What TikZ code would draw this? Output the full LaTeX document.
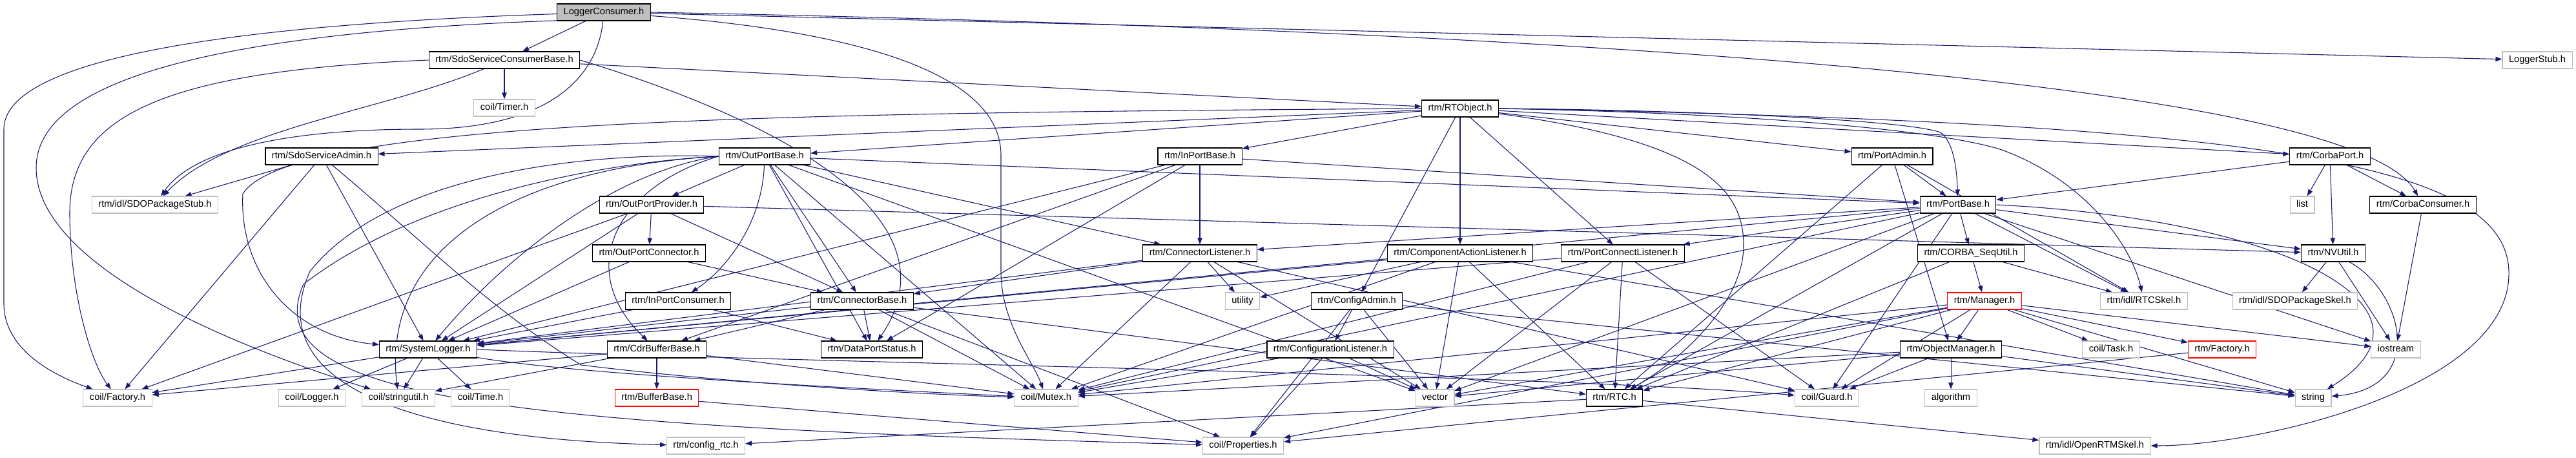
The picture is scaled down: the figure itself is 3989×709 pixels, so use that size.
\documentclass[tikz,border=0pt]{standalone}
\usepackage{fontspec}
\setmainfont{Liberation Sans}
\usepackage{tikz}
\usetikzlibrary{arrows.meta,backgrounds}
\definecolor{arco}{RGB}{25,25,112}
\definecolor{grigio}{RGB}{191,191,191}

\begin{document}
\begin{tikzpicture}[x=0.75pt, y=-0.75pt,
    file/.style={draw=black, fill=white, line width=0.8pt, minimum height=19.5pt,
      inner xsep=7.5pt, inner ysep=0pt, text height=8pt, text depth=2.4pt,
      font=\fontsize{11}{13}\selectfont},
    ext/.style={file, draw=grigio},
    rosso/.style={file, draw=red},
    radice/.style={file, fill=grigio},
    dep/.style={draw=arco, line width=0.8pt, -{Triangle[length=7.5pt,width=5.5pt]}}]
            \useasboundingbox (0,0) rectangle (3989,709);

            % file principale
            \node[radice] (lc) at (935,19) {LoggerConsumer.h};

            % livello 1-2
            \node[file] (scb) at (781,93) {rtm/SdoServiceConsumerBase.h};
            \node[ext] (stub) at (3929,93) {LoggerStub.h};
            \node[ext] (timer) at (781,167) {coil/Timer.h};
            \node[file] (rto) at (2261,168) {rtm/RTObject.h};

            % livello 3
            \node[file] (sadm) at (498,242) {rtm/SdoServiceAdmin.h};
            \node[file] (opb) at (1184,242) {rtm/OutPortBase.h};
            \node[file] (ipb) at (1858,242) {rtm/InPortBase.h};
            \node[file] (padm) at (2930,242) {rtm/PortAdmin.h};
            \node[file] (cport) at (3608,242) {rtm/CorbaPort.h};

            % livello 4
            \node[ext] (sdostub) at (240,317) {rtm/idl/SDOPackageStub.h};
            \node[file] (opp) at (1009,317) {rtm/OutPortProvider.h};
            \node[file] (pbase) at (3032,317) {rtm/PortBase.h};
            \node[ext] (list) at (3565,317) {list};
            \node[file] (ccons) at (3752,317) {rtm/CorbaConsumer.h};

            % livello 5
            \node[file] (opc) at (1005,392) {rtm/OutPortConnector.h};
            \node[file] (clis) at (1858,392) {rtm/ConnectorListener.h};
            \node[file] (calis) at (2261,392) {rtm/ComponentActionListener.h};
            \node[file] (pclis) at (2513,392) {rtm/PortConnectListener.h};
            \node[file] (cseq) at (3052,392) {rtm/CORBA\_SeqUtil.h};
            \node[file] (nvutil) at (3613,392) {rtm/NVUtil.h};

            % livello 6
            \node[file] (ipc) at (1050,466) {rtm/InPortConsumer.h};
            \node[file] (cbase) at (1335,466) {rtm/ConnectorBase.h};
            \node[ext] (utility) at (1924,466) {utility};
            \node[file] (cadm) at (2101,466) {rtm/ConfigAdmin.h};
            \node[rosso] (mgr) at (3073,466) {rtm/Manager.h};
            \node[ext] (rtcskel) at (3320,466) {rtm/idl/RTCSkel.h};
            \node[ext] (sdoskel) at (3554,466) {rtm/idl/SDOPackageSkel.h};

            % livello 7
            \node[file] (slog) at (663,541) {rtm/SystemLogger.h};
            \node[file] (cdrbuf) at (1017,541) {rtm/CdrBufferBase.h};
            \node[file] (dps) at (1350,541) {rtm/DataPortStatus.h};
            \node[file] (conflis) at (2060,541) {rtm/ConfigurationListener.h};
            \node[file] (objmgr) at (3021,541) {rtm/ObjectManager.h};
            \node[ext] (task) at (3269,541) {coil/Task.h};
            \node[rosso] (fact) at (3441,541) {rtm/Factory.h};
            \node[ext] (iostream) at (3710,541) {iostream};

            % livello 8
            \node[ext] (cfact) at (182,616) {coil/Factory.h};
            \node[ext] (clog) at (483,616) {coil/Logger.h};
            \node[ext] (sutil) at (617,616) {coil/stringutil.h};
            \node[ext] (ctime) at (744,616) {coil/Time.h};
            \node[rosso] (bbase) at (1017,616) {rtm/BufferBase.h};
            \node[ext] (mutex) at (1620,616) {coil/Mutex.h};
            \node[ext] (vector) at (2222,616) {vector};
            \node[file] (rtc) at (2500,616) {rtm/RTC.h};
            \node[ext] (guard) at (2829,616) {coil/Guard.h};
            \node[ext] (algo) at (3021,616) {algorithm};
            \node[ext] (string) at (3582,616) {string};

            % livello 9
            \node[ext] (crtc) at (1093,690) {rtm/config\_rtc.h};
            \node[ext] (props) at (1925,690) {coil/Properties.h};
            \node[ext] (ortm) at (3244,690) {rtm/idl/OpenRTMSkel.h};

            \begin{pgfonlayer}{background}
            % LoggerConsumer.h
            \draw[dep] (lc) -- (scb);
            \draw[dep] (lc) -- (stub);
            \draw[dep] (lc.east) .. controls (2600,50) and (3650,140) .. (ccons);
            \draw[dep] (lc) .. controls (1350,50) and (1550,120) .. (1550,240) -- (1550,420) .. controls (1550,500) and (1600,560) .. (mutex);
            \draw[dep] (lc.182) .. controls (300,40) and (6,100) .. (6,200) -- (6,470) .. controls (6,540) and (80,580) .. (cfact);
            \draw[dep] (lc.190) .. controls (350,50) and (56,120) .. (56,260) .. controls (56,380) and (250,500) .. (sutil);
            \draw[dep] (lc) .. controls (925,120) and (850,200) .. (650,200) .. controls (450,200) and (300,230) .. (sdostub);

            % SdoServiceConsumerBase.h
            \draw[dep] (scb) -- (timer);
            \draw[dep] (scb) -- (rto);
            \draw[dep] (scb) .. controls (600,170) and (350,200) .. (sdostub);
            \draw[dep] (scb.west) .. controls (250,110) and (108,180) .. (108,330) .. controls (108,450) and (140,560) .. (cfact);
            \draw[dep] (scb.east) .. controls (1250,200) and (1480,350) .. (dps);

            % RTObject.h
            \draw[dep] (rto) -- (sadm);
            \draw[dep] (rto) -- (opb);
            \draw[dep] (rto) -- (ipb);
            \draw[dep] (rto) -- (padm);
            \draw[dep] (rto) -- (cport);
            \draw[dep] (rto.east) .. controls (2600,170) and (2950,185) .. (3005,205) .. controls (3025,220) and (3030,260) .. (pbase);
            \draw[dep] (rto.east) .. controls (2700,175) and (3000,200) .. (3100,232) .. controls (3230,280) and (3300,380) .. (rtcskel);
            \draw[dep] (rto.east) .. controls (3500,190) and (3880,250) .. (3885,420) .. controls (3890,600) and (3500,690) .. (ortm);
            \draw[dep] (rto) -- (calis);
            \draw[dep] (rto) -- (pclis);
            \draw[dep] (rto) -- (cadm);
            \draw[dep] (rto) .. controls (2650,220) and (2700,300) .. (2700,380) .. controls (2700,470) and (2600,560) .. (rtc);
            \draw[dep] (rto.west) .. controls (1200,175) and (450,185) .. (376,300) .. controls (370,420) and (450,520) .. (slog);

            % SdoServiceAdmin.h
            \draw[dep] (sadm) -- (sdostub);
            \draw[dep] (sadm) -- (cfact);
            \draw[dep] (sadm) -- (slog);
            \draw[dep] (sadm) .. controls (640,360) and (760,480) .. (900,565) .. controls (1100,590) and (1400,610) .. (mutex);

            % OutPortBase.h
            \draw[dep] (opb) -- (opp);
            \draw[dep] (opb) .. controls (1180,350) and (1120,420) .. (ipc);
            \draw[dep] (opb) -- (cbase);
            \draw[dep] (opb) -- (clis);
            \draw[dep] (opb) -- (pbase);
            \draw[dep] (opb.west) .. controls (950,265) and (780,400) .. (slog);
            \draw[dep] (opb.west) .. controls (950,290) and (890,420) .. (cdrbuf);
            \draw[dep] (opb) -- (dps);
            \draw[dep] (opb.west) .. controls (800,260) and (590,380) .. (sutil);
            \draw[dep] (opb) -- (vector);
            \draw[dep] (opb) -- (mutex);
            \draw[dep] (opb.west) .. controls (900,235) and (600,270) .. (480,420) .. controls (400,600) and (650,680) .. (crtc);
            \draw[dep] (opb.west) .. controls (950,250) and (650,300) .. (470,440) .. controls (390,620) and (800,660) .. (props);

            % OutPortProvider.h
            \draw[dep] (opp) -- (opc);
            \draw[dep] (opp) -- (cfact);
            \draw[dep] (opp) -- (slog);
            \draw[dep] (opp) -- (cbase);
            \draw[dep] (opp) -- (nvutil);

            % OutPortConnector.h, InPortConsumer.h
            \draw[dep] (opc) -- (cbase);
            \draw[dep] (opc) -- (slog);
            \draw[dep] (ipc) -- (slog);
            \draw[dep] (ipc) -- (dps);

            % SystemLogger.h
            \draw[dep] (slog) -- (cfact);
            \draw[dep] (slog) -- (clog);
            \draw[dep] (slog) -- (sutil);
            \draw[dep] (slog) -- (ctime);
            \draw[dep] (slog) .. controls (900,580) and (1300,600) .. (mutex);
            \draw[dep] (slog.east) .. controls (1200,560) and (2400,580) .. (guard);

            % ConnectorBase.h
            \draw[dep] (cbase) -- (slog);
            \draw[dep] (cbase) -- (dps);
            \draw[dep] (cbase) -- (cdrbuf);
            \draw[dep] (cbase) -- (mutex);
            \draw[dep] (cbase) -- (props);
            \draw[dep] (cbase) -- (rtc);

            % CdrBufferBase.h, BufferBase.h
            \draw[dep] (cdrbuf) -- (bbase);
            \draw[dep] (cdrbuf) -- (cfact);
            \draw[dep] (cdrbuf) -- (sutil);
            \draw[dep] (cdrbuf) -- (mutex);
            \draw[dep] (bbase) -- (props);

            % InPortBase.h
            \draw[dep] (ipb) -- (pbase);
            \draw[dep] (ipb) -- (clis);
            \draw[dep] (ipb) -- (cdrbuf);
            \draw[dep] (ipb) -- (dps);
            \draw[dep] (ipb) -- (slog);

            % ConnectorListener.h
            \draw[dep] (clis) -- (cbase);
            \draw[dep] (clis) -- (utility);
            \draw[dep] (clis) -- (slog);
            \draw[dep] (clis) -- (mutex);
            \draw[dep] (clis) -- (vector);
            \draw[dep] (clis) -- (guard);

            % ComponentActionListener.h
            \draw[dep] (calis) -- (slog);
            \draw[dep] (calis) -- (utility);
            \draw[dep] (calis) -- (mutex);
            \draw[dep] (calis) -- (vector);
            \draw[dep] (calis) -- (rtc);
            \draw[dep] (calis) -- (string);

            % PortConnectListener.h
            \draw[dep] (pclis) -- (slog);
            \draw[dep] (pclis) -- (mutex);
            \draw[dep] (pclis) -- (vector);
            \draw[dep] (pclis) -- (rtc);
            \draw[dep] (pclis) -- (guard);

            % PortAdmin.h
            \draw[dep] (padm) -- (pbase);
            \draw[dep] (padm) -- (objmgr);
            \draw[dep] (padm) -- (rtcskel);
            \draw[dep] (padm) -- (rtc);

            % PortBase.h
            \draw[dep] (pbase) -- (cseq);
            \draw[dep] (pbase) -- (nvutil);
            \draw[dep] (pbase) -- (rtcskel);
            \draw[dep] (pbase) -- (pclis);
            \draw[dep] (pbase) -- (clis);
            \draw[dep] (pbase) -- (rtc);
            \draw[dep] (pbase) -- (mutex);
            \draw[dep] (pbase) -- (slog);
            \draw[dep] (pbase) -- (vector);
            \draw[dep] (pbase) -- (guard);
            \draw[dep] (pbase.east) .. controls (3550,340) and (3800,480) .. (string);
            \draw[dep] (pbase) -- (iostream);

            % CORBA_SeqUtil.h
            \draw[dep] (cseq) -- (mgr);
            \draw[dep] (cseq) -- (rtc);
            \draw[dep] (cseq) -- (rtcskel);

            % CorbaPort.h, CorbaConsumer.h, NVUtil.h
            \draw[dep] (cport) -- (pbase);
            \draw[dep] (cport) -- (list);
            \draw[dep] (cport) -- (nvutil);
            \draw[dep] (cport) -- (ccons);
            \draw[dep] (ccons) -- (iostream);
            \draw[dep] (nvutil) -- (sdoskel);
            \draw[dep] (nvutil) -- (iostream);
            \draw[dep] (nvutil) .. controls (3720,450) and (3760,600) .. (string);

            % ConfigAdmin.h, ConfigurationListener.h
            \draw[dep] (cadm) -- (conflis);
            \draw[dep] (cadm) -- (vector);
            \draw[dep] (cadm) -- (props);
            \draw[dep] (cadm) -- (string);
            \draw[dep] (conflis) -- (vector);
            \draw[dep] (conflis) -- (props);
            \draw[dep] (conflis) -- (mutex);

            % Manager.h
            \draw[dep] (mgr) -- (objmgr);
            \draw[dep] (mgr) -- (task);
            \draw[dep] (mgr) -- (fact);
            \draw[dep] (mgr) -- (iostream);
            \draw[dep] (mgr) -- (string);
            \draw[dep] (mgr) -- (mutex);
            \draw[dep] (mgr) -- (guard);
            \draw[dep] (mgr) -- (rtc);
            \draw[dep] (mgr) -- (vector);
            \draw[dep] (mgr) -- (props);

            % ObjectManager.h, Factory.h, RTC.h
            \draw[dep] (objmgr) -- (algo);
            \draw[dep] (objmgr) -- (string);
            \draw[dep] (objmgr) -- (vector);
            \draw[dep] (objmgr) -- (guard);
            \draw[dep] (objmgr) -- (mutex);
            \draw[dep] (fact) -- (props);
            \draw[dep] (rtc) -- (crtc);
            \draw[dep] (rtc) -- (ortm);
            \end{pgfonlayer}
        \end{tikzpicture}
\end{document}
